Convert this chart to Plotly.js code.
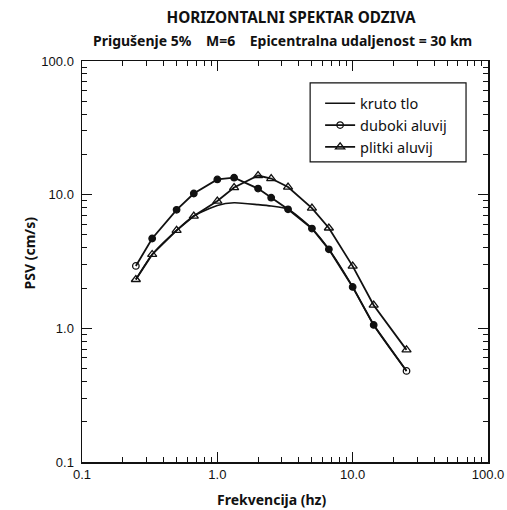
<!DOCTYPE html>
<html>
<head>
<meta charset="utf-8">
<script src="https://cdn.plot.ly/plotly-3.0.1.min.js"></script>
<style>html,body{margin:0;padding:0;background:#fff;}#chart{width:507px;height:510px;}</style>
</head>
<body>
<div id="chart"></div>
<script>
// Data
const freq = [0.25, 0.33, 0.5, 0.67, 1.0, 1.33, 2.0, 2.5, 3.33, 5.0, 6.67, 10.0, 14.3, 25.0];
const krutoTlo = [2.32, 3.57, 5.41, 6.92, 8.3, 8.7, 8.42, 8.22, 7.77, 5.58, 3.9, 2.04, 1.06, 0.48];
const dubokiAluvij = [2.93, 4.7, 7.7, 10.2, 13.0, 13.4, 11.1, 9.5, 7.77, 5.58, 3.9, 2.04, 1.06, 0.48];
const plitkiAluvij = [2.32, 3.57, 5.41, 6.92, 8.96, 11.3, 13.9, 13.2, 11.4, 7.94, 5.63, 2.92, 1.49, 0.69];
const seriesNames = ["kruto tlo", "duboki aluvij", "plitki aluvij"];
const tickVals = [0.1, 1, 10, 100];
const tickText = ["0.1", "1.0", "10.0", "100.0"];
const titleText = "HORIZONTALNI SPEKTAR ODZIVA";
const subtitleText = "Prigušenje 5%\u00A0\u00A0\u00A0 M=6\u00A0\u00A0\u00A0 Epicentralna udaljenost = 30 km";
const xTitle = "Frekvencija (hz)";
const yTitle = "PSV (cm/s)";

const circleSymbols = freq.map((f, i) => (i === 0 || i === freq.length - 1) ? "circle-open" : "circle");

const traces = [
  {x: freq, y: krutoTlo, name: seriesNames[0], mode: "lines",
   line: {color: "#111", width: 1.6, shape: "spline", smoothing: 0.6}},
  {x: freq, y: dubokiAluvij, name: seriesNames[1], mode: "lines+markers",
   line: {color: "#111", width: 1.8},
   marker: {symbol: circleSymbols, size: 6.5, color: "#111", line: {color: "#111", width: 1.3}}},
  {x: freq, y: plitkiAluvij, name: seriesNames[2], mode: "lines+markers",
   line: {color: "#111", width: 1.8},
   marker: {symbol: "triangle-up-open", size: 8, color: "#111", line: {color: "#111", width: 1.3}}}
];

const axisCommon = {
  type: "log", showgrid: false, zeroline: false,
  showline: true, linecolor: "#111", linewidth: 1.5, mirror: "ticks",
  ticks: "inside", ticklen: 10, tickwidth: 1.2, tickcolor: "#111",
  tickvals: tickVals, ticktext: tickText,
  tickfont: {family: "Liberation Sans, Arial, sans-serif", size: 13, color: "#111"},
  minor: {ticks: "inside", ticklen: 5, tickwidth: 1, tickcolor: "#111", dtick: "D1", showgrid: false}
};

const layout = {
  width: 507, height: 510,
  margin: {l: 82, r: 19, t: 61, b: 48},
  paper_bgcolor: "#fff", plot_bgcolor: "#fff",
  showlegend: true,
  title: {text: titleText, x: 0.574, xanchor: "center", xref: "container",
          y: 0.965, yanchor: "middle", yref: "container",
          font: {family: "Noto Sans, sans-serif", size: 15.3, color: "#111", weight: "bold"}},
  xaxis: Object.assign({}, axisCommon, {range: [-1, 2], ticklabelstandoff: 0}),
  yaxis: Object.assign({}, axisCommon, {range: [-1, 2], ticklabelstandoff: 4}),
  legend: {x: 0.5865, y: 0.9345, xanchor: "left", yanchor: "top",
           borderwidth: 0, bgcolor: "rgba(0,0,0,0)",
           font: {family: "Noto Sans, sans-serif", size: 14.5, color: "#111"},
           tracegroupgap: 0},
  shapes: [
    {type: "rect", xref: "paper", yref: "paper", x0: 0.5619, x1: 0.9459, y0: 0.7483, y1: 0.9452,
     line: {color: "#111", width: 1.2}, fillcolor: "rgba(0,0,0,0)", layer: "above"}
  ],
  annotations: [
    {text: subtitleText, xref: "paper", yref: "paper", x: 0.494, y: 1.0516,
     xanchor: "center", yanchor: "middle", showarrow: false,
     font: {family: "Noto Sans, sans-serif", size: 14, color: "#111", weight: "bold"}},
    {text: xTitle, xref: "paper", yref: "paper", x: 0.468, y: -0.0947,
     xanchor: "center", yanchor: "middle", showarrow: false,
     font: {family: "Noto Sans, sans-serif", size: 14, color: "#111", weight: "bold"}},
    {text: yTitle, xref: "paper", yref: "paper", x: -0.1297, y: 0.521,
     xanchor: "center", yanchor: "middle", showarrow: false, textangle: -90,
     font: {family: "Noto Sans, sans-serif", size: 14, color: "#111", weight: "bold"}}
  ]
};

Plotly.newPlot("chart", traces, layout, {displayModeBar: false, staticPlot: true});
</script>
</body>
</html>
